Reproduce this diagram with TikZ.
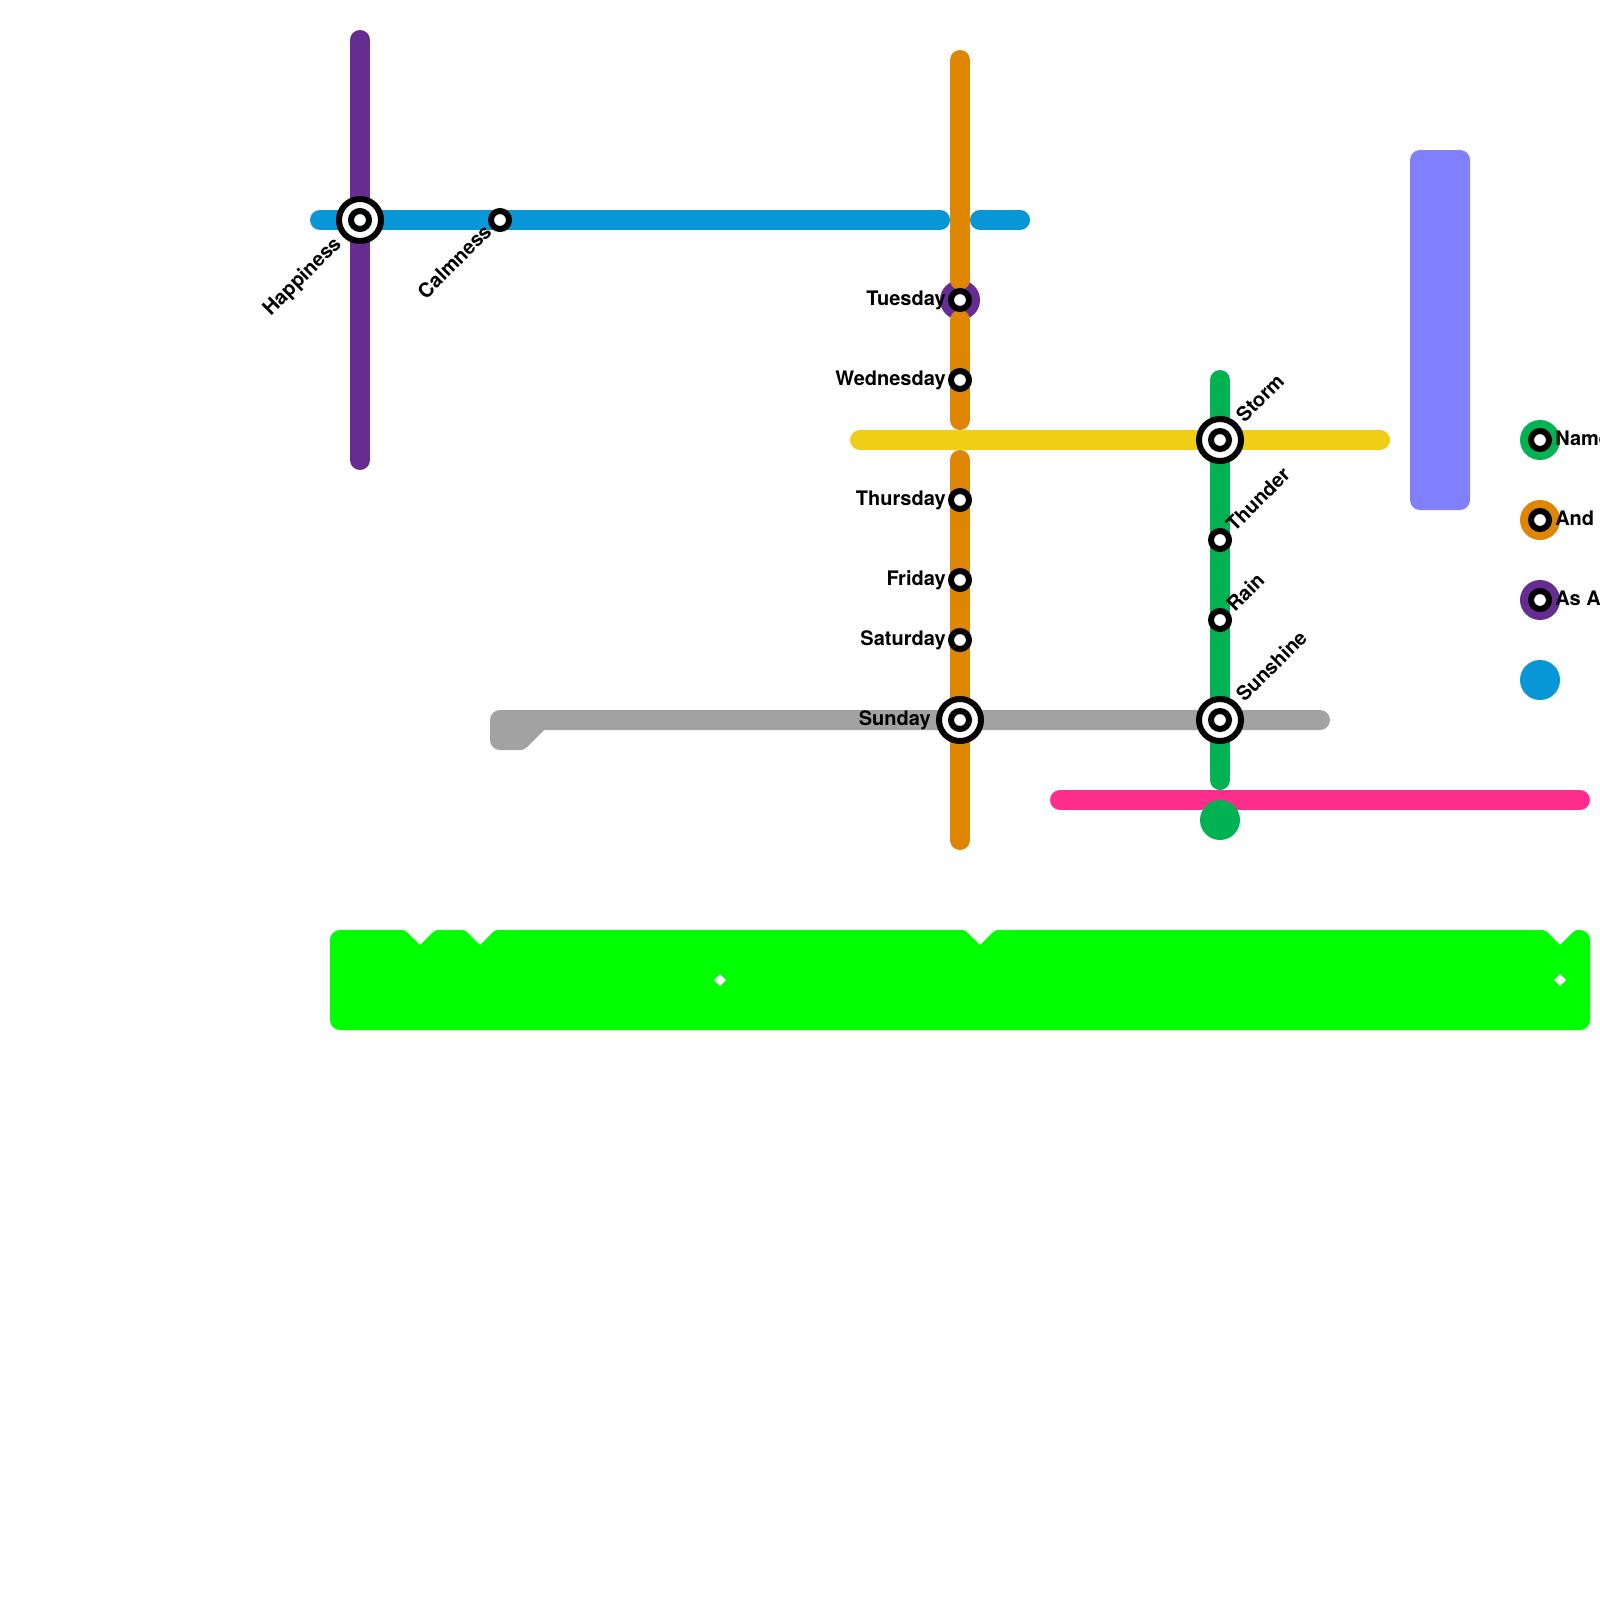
\documentclass[tikz,border=0pt]{standalone}
\usepackage{fontspec}
\setmainfont{TeX Gyre Heros}
\definecolor{lpurple}{HTML}{662C90}
\definecolor{lblue}{HTML}{0896D7}
\definecolor{lorange}{HTML}{DF8600}
\definecolor{lyellow}{HTML}{F0CE15}
\definecolor{lgreen}{HTML}{00B251}
\definecolor{lgrey}{HTML}{A2A2A2}
\definecolor{lpink}{HTML}{FF2E8C}
\definecolor{lbright}{HTML}{00FF00}
\definecolor{llilac}{HTML}{8080FF}
\tikzset{
  railline/.style={line width=15pt,line cap=round,line join=round},
  stationring/.style={circle,draw=black,fill=white,line width=4.5pt,minimum size=13.5pt,inner sep=0pt},
  hubring/.style={circle,draw=black,fill=white,line width=4.5pt,minimum size=31.5pt,inner sep=0pt},
  disc/.style={circle,minimum size=30pt,inner sep=0pt},
  lab/.style={font=\fontsize{15pt}{15pt}\selectfont\bfseries,inner sep=0pt,text=black},
  labl/.style={lab,anchor=base east},
  labr/.style={lab,anchor=base west},
  labdiagl/.style={lab,anchor=base east,rotate=45},
  labdiagr/.style={lab,anchor=base west,rotate=45},
}
\begin{document}
\begin{tikzpicture}[x=0.75pt,y=-0.75pt]
\useasboundingbox (0,0) rectangle (1600,1600);
\clip (0,0) rectangle (1600,1600);
\fill[white] (0,0) rectangle (1600,1600);
% large shapes
\fill[llilac,rounded corners=7.5pt] (1410,150) rectangle (1470,510);
\fill[lbright]
  (330,980) [rounded corners=7.5pt] -- (330,930) [rounded corners=2.2pt]
  -- (405,930) [sharp corners] -- (420,945) [rounded corners=2.2pt] -- (435,930)
  -- (465,930) [sharp corners] -- (480,945) [rounded corners=2.2pt] -- (495,930)
  -- (965,930) [sharp corners] -- (980,945) [rounded corners=2.2pt] -- (995,930)
  -- (1545,930) [sharp corners] -- (1560,945) [rounded corners=2.2pt] -- (1575,930)
  [rounded corners=7.5pt] -- (1590,930) -- (1590,1030) -- (330,1030) [sharp corners] -- cycle;
\fill[white] (720,974) -- (726,980) -- (720,986) -- (714,980) -- cycle;
\fill[white] (1560,974) -- (1566,980) -- (1560,986) -- (1554,980) -- cycle;
% free line ends
\coordinate (pu1) at (360,40);
\coordinate (pu2) at (360,460);
\coordinate (bl1) at (320,220);
\coordinate (bl2) at (940,220);
\coordinate (bl3) at (980,220);
\coordinate (bl4) at (1020,220);
\coordinate (or1) at (960,60);
\coordinate (or1b) at (960,280);
\coordinate (or1c) at (960,320);
\coordinate (or2) at (960,420);
\coordinate (or3) at (960,460);
\coordinate (or4) at (960,840);
\coordinate (ye1) at (860,440);
\coordinate (ye2) at (1380,440);
\coordinate (gr1) at (1220,380);
\coordinate (gr2) at (1220,780);
\coordinate (pk1) at (1060,800);
\coordinate (pk2) at (1580,800);
\coordinate (gy1) at (1320,720);
\coordinate (gy2) at (500,720);
\coordinate (gy3) at (500,740);
\coordinate (gy4) at (520,740);
\coordinate (gy5) at (540,720);
% purple disc beneath orange
\node[disc,fill=lpurple] (tuesdisc) at (960,300) {};
% lines
\draw[railline,lgrey,fill=lgrey] (gy1) -- (gy2) -- (gy3) -- (gy4) -- (gy5);
\draw[railline,lpurple] (pu1) -- (pu2);
\draw[railline,lblue] (bl1) -- (bl2);
\draw[railline,lblue] (bl3) -- (bl4);
\draw[railline,lorange] (or1) -- (or1b);
\draw[railline,lorange] (or1c) -- (or2);
\draw[railline,lorange] (or3) -- (or4);
\draw[railline,lyellow] (ye1) -- (ye2);
\draw[railline,lgreen] (gr1) -- (gr2);
\draw[railline,lpink] (pk1) -- (pk2);
\node[disc,fill=lgreen] (greendisc) at (1220,820) {};
% legend discs
\node[disc,fill=lgreen] (legA) at (1540,440) {};
\node[disc,fill=lorange] (legB) at (1540,520) {};
\node[disc,fill=lpurple] (legC) at (1540,600) {};
\node[disc,fill=lblue] (legD) at (1540,680) {};
% interchange stations
\node[hubring] (happyO) at (360,220) {};
\node[stationring] (happy) at (360,220) {};
\node[hubring] (sundayO) at (960,720) {};
\node[stationring] (sunday) at (960,720) {};
\node[hubring] (stormO) at (1220,440) {};
\node[stationring] (storm) at (1220,440) {};
\node[hubring] (sunshineO) at (1220,720) {};
\node[stationring] (sunshine) at (1220,720) {};
% stations
\node[stationring] (calm) at (500,220) {};
\node[stationring] (tue) at (960,300) {};
\node[stationring] (wed) at (960,380) {};
\node[stationring] (thu) at (960,500) {};
\node[stationring] (fri) at (960,580) {};
\node[stationring] (sat) at (960,640) {};
\node[stationring] (thunder) at (1220,540) {};
\node[stationring] (rain) at (1220,620) {};
\node[stationring] (legAs) at (1540,440) {};
\node[stationring] (legBs) at (1540,520) {};
\node[stationring] (legCs) at (1540,600) {};
% labels
\node[labdiagl] (tHappy) at (342.5,245) {Happiness};
\node[labdiagl] (tCalm) at (493,233) {Calmness};
\node[labl] (tTue) at (946,305) {Tuesday};
\node[labl] (tWed) at (946,385) {Wednesday};
\node[labl] (tThu) at (946,505) {Thursday};
\node[labl] (tFri) at (946,585) {Friday};
\node[labl] (tSat) at (946,645) {Saturday};
\node[labl] (tSun) at (931,725) {Sunday};
\node[labdiagr] (tStorm) at (1244.5,423.5) {Storm};
\node[labdiagr] (tThunder) at (1234.5,533) {Thunder};
\node[labdiagr] (tRain) at (1235,613) {Rain};
\node[labdiagr] (tSunshine) at (1244.5,703) {Sunshine};
\node[labr] (tName) at (1555,445) {Name};
\node[labr] (tAnd) at (1555,525) {And};
\node[labr] (tAs) at (1555,605) {As A};
\end{tikzpicture}
\end{document}
